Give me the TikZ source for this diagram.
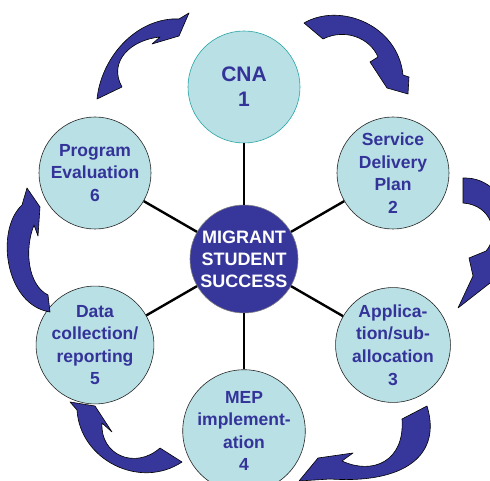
\documentclass[tikz,border=0pt]{standalone}
\usepackage{fontspec}
\setmainfont{Liberation Sans}

\definecolor{ringfill}{RGB}{185,224,228}
\definecolor{ringtext}{RGB}{51,51,153}
\definecolor{hubfill}{RGB}{55,55,155}
\definecolor{cnaedge}{RGB}{40,165,165}

\tikzset{
  stage/.style={circle, draw=black!85, line width=0.6pt, fill=ringfill, minimum size=112pt,
    inner sep=0pt, align=center, text=ringtext, font=\fontsize{17.5}{22.6}\selectfont\bfseries},
  hub/.style={circle, draw=gray, line width=0.6pt, fill=hubfill, minimum size=108pt,
    inner sep=0pt, align=center, text=white, font=\fontsize{18}{22}\selectfont\bfseries},
  spoke/.style={line width=2.4pt},
  turn/.style={draw=black, line width=0.6pt, fill=hubfill, line join=round},
}

\begin{document}
\begin{tikzpicture}[x=1pt, y=-1pt]
  \useasboundingbox (0,0) rectangle (490,481);
  \clip (0,0) rectangle (490,481);

  \node[hub] (mss) at (244,259) {MIGRANT\\STUDENT\\SUCCESS};

  \node[stage, draw=cnaedge, font=\fontsize{21}{25}\selectfont\bfseries] (cna) at (244,87) {CNA\\1};
  \node[stage] (sdp) at (393,173) {Service\\Delivery\\Plan\\2};
  \node[stage] (app) at (393,345) {Applica-\\tion/sub-\\allocation\\3};
  \node[stage] (mep) at (244,431) {MEP\\implement-\\ation\\4};
  \node[stage] (data) at (95,345) {Data\\collection/\\reporting\\5};
  \node[stage] (eval) at (95,173) {Program\\Evaluation\\6};

  % spokes
  \draw[spoke] (mss) -- (cna);
  \draw[spoke] (mss) -- (sdp);
  \draw[spoke] (mss) -- (app);
  \draw[spoke] (mss) -- (mep);
  \draw[spoke] (mss) -- (data);
  \draw[spoke] (mss) -- (eval);

  % curved arrows round the ring
  \path[turn] (97,99) .. controls (101,60) and (132,22) .. (172,19) -- (179,19) -- (189,13)
    -- (179,36) -- (152,44) -- (160,37) .. controls (130,40) and (108,62) .. (122,87) -- cycle;
  \path[turn] (304,23) .. controls (340,2) and (398,25) .. (403,75) -- (409,77) -- (408,94)
    -- (387,88) -- (370,62) -- (378,57) .. controls (370,38) and (345,28) .. (323,39) -- cycle;
  \path[turn] (463,178) .. controls (515,176) and (530,262) .. (490,283) -- (458,308)
    -- (473,276) -- (469,258) -- (486,251) .. controls (500,235) and (492,205) .. (463,203) -- cycle;
  \path[turn] (427,406) .. controls (442,455) and (405,484) .. (330,479) -- (299,481)
    -- (318,458) -- (353,453) -- (342,461) .. controls (372,475) and (405,462) .. (402,419) -- cycle;
  \path[turn] (182,462) .. controls (140,490) and (80,460) .. (77,410) -- (70,402)
    -- (95,406) -- (112,432) -- (102,423) .. controls (100,455) and (135,470) .. (160,448) -- cycle;
  \path[turn] (50,312) .. controls (5,305) and (-5,230) .. (22,205) -- (27,188)
    -- (40,207) -- (38,236) -- (34,225) .. controls (24,250) and (28,285) .. (48,295) -- cycle;
\end{tikzpicture}
\end{document}
